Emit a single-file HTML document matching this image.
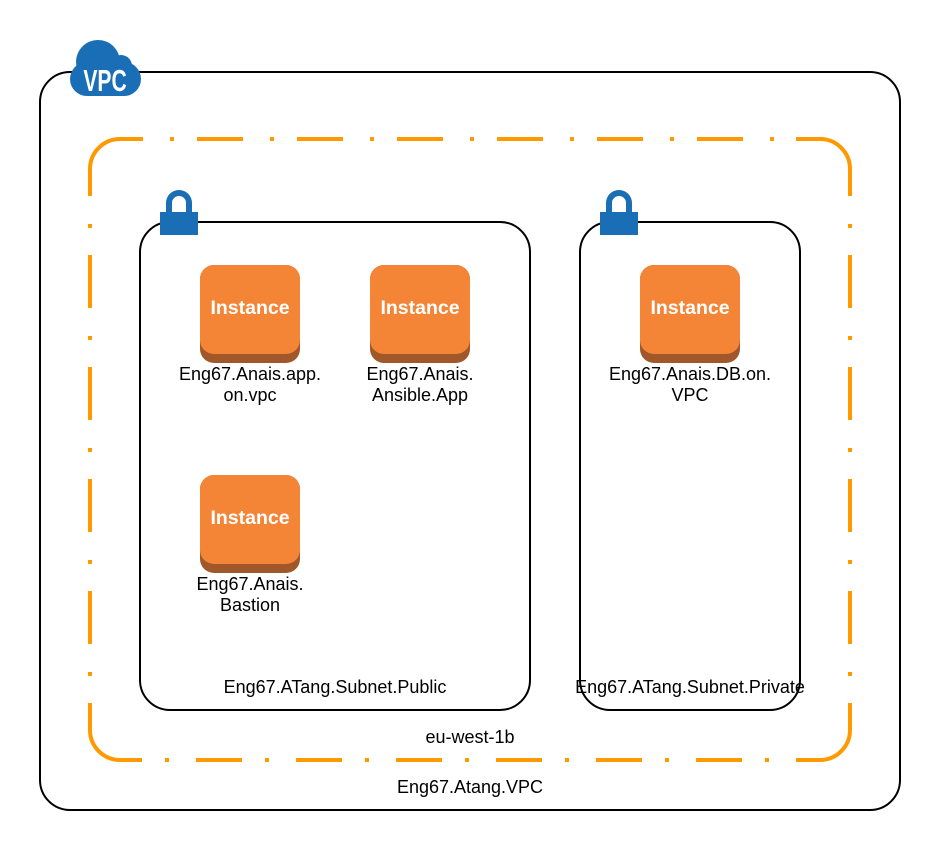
<!DOCTYPE html>
<html><head><meta charset="utf-8"><style>
html,body{margin:0;padding:0;background:#fff;}
svg{display:block;font-family:"Liberation Sans",sans-serif;}
</style></head><body>
<svg width="940" height="850" viewBox="0 0 940 850" xmlns="http://www.w3.org/2000/svg">
<rect x="40" y="72" width="860" height="738" rx="30" fill="none" stroke="#000" stroke-width="2"/>
<!-- orange region -->
<g stroke="#FF9900" stroke-width="4" fill="none">
<path d="M90 195 L90 169 A30 30 0 0 1 120 139 L143 139"/>
<path d="M796 139 L820 139 A30 30 0 0 1 850 169 L850 195"/>
<path d="M850 730 A30 30 0 0 1 820 760 L796 760"/>
<path d="M120 760 A30 30 0 0 1 90 730"/>
<line x1="143" y1="139" x2="796" y2="139" stroke-dasharray="4 23 46 27" stroke-dashoffset="73"/>
<line x1="796" y1="760" x2="120" y2="760" stroke-dasharray="4 23 46 27" stroke-dashoffset="73"/>
<line x1="90" y1="195" x2="90" y2="730" stroke-dasharray="4 27 53 28" stroke-dashoffset="83"/>
<line x1="850" y1="195" x2="850" y2="730" stroke-dasharray="4 27 53 28" stroke-dashoffset="83"/>
</g>
<!-- subnets -->
<rect x="140" y="222" width="390" height="488" rx="30" fill="none" stroke="#000" stroke-width="2"/>
<rect x="580" y="222" width="220" height="488" rx="30" fill="none" stroke="#000" stroke-width="2"/>
<!-- locks -->
<g fill="#1A6EB5">
<path d="M166 212 V203 A13 13 0 0 1 192 203 V212 H186 V203 A7 7 0 0 0 172 203 V212 Z"/>
<rect x="160" y="212" width="38" height="23"/>
<path d="M606 212 V203 A13 13 0 0 1 632 203 V212 H626 V203 A7 7 0 0 0 612 203 V212 Z"/>
<rect x="600" y="212" width="38" height="23"/>
</g>
<!-- cloud -->
<g fill="#1A6EB5">
<circle cx="98" cy="62" r="22"/>
<circle cx="121" cy="66" r="11"/>
<rect x="70" y="62" width="71" height="34" rx="17"/>
</g>
<text x="105" y="91" fill="#fff" font-size="31" font-weight="bold" text-anchor="middle" transform="translate(105 0) scale(0.68 1) translate(-105 0)">VPC</text>
<!-- instances -->
<g>
<g transform="translate(200 265)">
<rect x="0" y="0" width="100" height="98" rx="14" fill="#A0572A"/>
<rect x="0" y="0" width="100" height="89" rx="14" fill="#F58536"/>
<text x="50" y="49" fill="#fff" font-size="19.5" font-weight="bold" text-anchor="middle">Instance</text>
</g>
<g transform="translate(370 265)">
<rect x="0" y="0" width="100" height="98" rx="14" fill="#A0572A"/>
<rect x="0" y="0" width="100" height="89" rx="14" fill="#F58536"/>
<text x="50" y="49" fill="#fff" font-size="19.5" font-weight="bold" text-anchor="middle">Instance</text>
</g>
<g transform="translate(640 265)">
<rect x="0" y="0" width="100" height="98" rx="14" fill="#A0572A"/>
<rect x="0" y="0" width="100" height="89" rx="14" fill="#F58536"/>
<text x="50" y="49" fill="#fff" font-size="19.5" font-weight="bold" text-anchor="middle">Instance</text>
</g>
<g transform="translate(200 475)">
<rect x="0" y="0" width="100" height="98" rx="14" fill="#A0572A"/>
<rect x="0" y="0" width="100" height="89" rx="14" fill="#F58536"/>
<text x="50" y="49" fill="#fff" font-size="19.5" font-weight="bold" text-anchor="middle">Instance</text>
</g>
</g>
<g font-size="18" fill="#000" text-anchor="middle">
<text x="250" y="380">Eng67.Anais.app.</text>
<text x="250" y="401">on.vpc</text>
<text x="420" y="380">Eng67.Anais.</text>
<text x="420" y="401">Ansible.App</text>
<text x="690" y="380">Eng67.Anais.DB.on.</text>
<text x="690" y="401">VPC</text>
<text x="250" y="590">Eng67.Anais.</text>
<text x="250" y="611">Bastion</text>
<text x="335" y="693">Eng67.ATang.Subnet.Public</text>
<text x="690" y="693">Eng67.ATang.Subnet.Private</text>
<text x="470" y="743">eu-west-1b</text>
<text x="470" y="793">Eng67.Atang.VPC</text>
</g>
</svg>
</body></html>
